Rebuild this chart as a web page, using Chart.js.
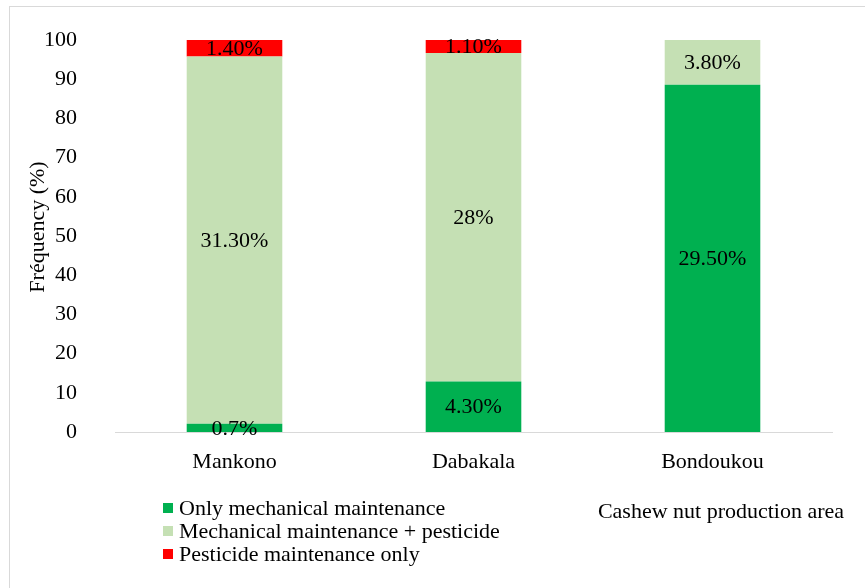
<!DOCTYPE html>
<html>
<head>
<meta charset="utf-8">
<script src="https://cdn.jsdelivr.net/npm/chart.js@4.4.1/dist/chart.umd.min.js"></script>
<style>
  html, body { margin: 0; padding: 0; background: #ffffff; }
  #wrap { width: 865px; height: 588px; position: relative; }
</style>
</head>
<body>
<div id="wrap"><canvas id="c" width="865" height="588"></canvas></div>
<script>
// ---- Data ----
const categories = ["Mankono", "Dabakala", "Bondoukou"];
const seriesNames = ["Only mechanical maintenance", "Mechanical maintenance + pesticide", "Pesticide maintenance only"];
const onlyMechanical = [2.1, 12.9, 88.6];
const mechanicalPesticide = [93.7, 83.8, 11.4];
const pesticideOnly = [4.2, 3.3, 0];
const onlyMechanicalLabels = ["0.7%", "4.30%", "29.50%"];
const mechanicalPesticideLabels = ["31.30%", "28%", "3.80%"];
const pesticideOnlyLabels = ["1.40%", "1.10%", ""];
const yTicks = [0, 10, 20, 30, 40, 50, 60, 70, 80, 90, 100];
const yTitle = "Fréquency (%)";
const xTitle = "Cashew nut production area";

const colors = ["#00B050", "#C5E0B4", "#FF0000"];
const FONT = "'Liberation Serif', 'Times New Roman', serif";
const FS = 22;

const segmentLabels = {
  id: 'segmentLabels',
  afterDatasetsDraw(chart) {
    const ctx = chart.ctx;
    ctx.save();
    ctx.font = FS + "px " + FONT;
    ctx.fillStyle = "#000";
    ctx.textAlign = "center";
    ctx.textBaseline = "middle";
    chart.data.datasets.forEach((ds, di) => {
      const meta = chart.getDatasetMeta(di);
      meta.data.forEach((el, i) => {
        const txt = ds.segLabels[i];
        if (!txt) return;
        const y = (el.y + el.base) / 2;
        ctx.fillText(txt, el.x, y + 1);
      });
    });
    ctx.restore();
  }
};

const extras = {
  id: 'extras',
  beforeDraw(chart) {
    const ctx = chart.ctx;
    ctx.save();
    ctx.fillStyle = "#fff";
    ctx.fillRect(0, 0, chart.width, chart.height);
    ctx.strokeStyle = "#d9d9d9";
    ctx.lineWidth = 1;
    ctx.strokeRect(9.5, 6.5, chart.width + 20, chart.height + 20);
    ctx.restore();
  },
  afterDraw(chart) {
    const ctx = chart.ctx;
    ctx.save();
    ctx.font = FS + "px " + FONT;
    ctx.fillStyle = "#000";
    ctx.textBaseline = "middle";
    const rows = [508, 531, 554];
    chart.data.datasets.forEach((ds, i) => {
      ctx.fillStyle = ds.backgroundColor;
      ctx.fillRect(163, rows[i] - 5, 10, 10);
      ctx.fillStyle = "#000";
      ctx.textAlign = "left";
      ctx.fillText(ds.label, 179, rows[i] + 1);
    });
    ctx.textAlign = "center";
    ctx.fillText(xTitle, 721, 512);
    // y-axis title
    ctx.translate(38, 227);
    ctx.rotate(-Math.PI / 2);
    ctx.fillText(yTitle, 0, 0);
    ctx.restore();
  }
};

new Chart(document.getElementById('c'), {
  type: 'bar',
  data: {
    labels: categories,
    datasets: [
      { label: seriesNames[0], data: onlyMechanical, backgroundColor: colors[0], segLabels: onlyMechanicalLabels },
      { label: seriesNames[1], data: mechanicalPesticide, backgroundColor: colors[1], segLabels: mechanicalPesticideLabels },
      { label: seriesNames[2], data: pesticideOnly, backgroundColor: colors[2], segLabels: pesticideOnlyLabels }
    ]
  },
  options: {
    responsive: false,
    animation: false,
    devicePixelRatio: 1,
    layout: { padding: { left: 10, right: 33, top: 40, bottom: 96 } },
    datasets: { bar: { categoryPercentage: 1.0, barPercentage: 0.4, borderWidth: 0 } },
    plugins: {
      legend: { display: false },
      tooltip: { enabled: false }
    },
    scales: {
      x: {
        stacked: true,
        grid: { display: false, drawTicks: false },
        border: { display: true, color: "#d9d9d9", width: 1 },
        ticks: { color: "#000", font: { family: FONT, size: FS }, padding: 17 },
        afterFit(scale) { scale.height = 60; scale.paddingLeft = 0; scale.paddingRight = 0; }
      },
      y: {
        stacked: true,
        min: 0, max: 100,
        afterBuildTicks(scale) { scale.ticks = yTicks.map(v => ({ value: v })); },
        grid: { display: false, drawTicks: false },
        border: { display: false },
        ticks: { color: "#000", font: { family: FONT, size: FS }, padding: 38 },
        afterFit(scale) { scale.width = 105; scale.paddingTop = 0; scale.paddingBottom = 0; }
      }
    }
  },
  plugins: [extras, segmentLabels]
});
</script>
</body>
</html>
